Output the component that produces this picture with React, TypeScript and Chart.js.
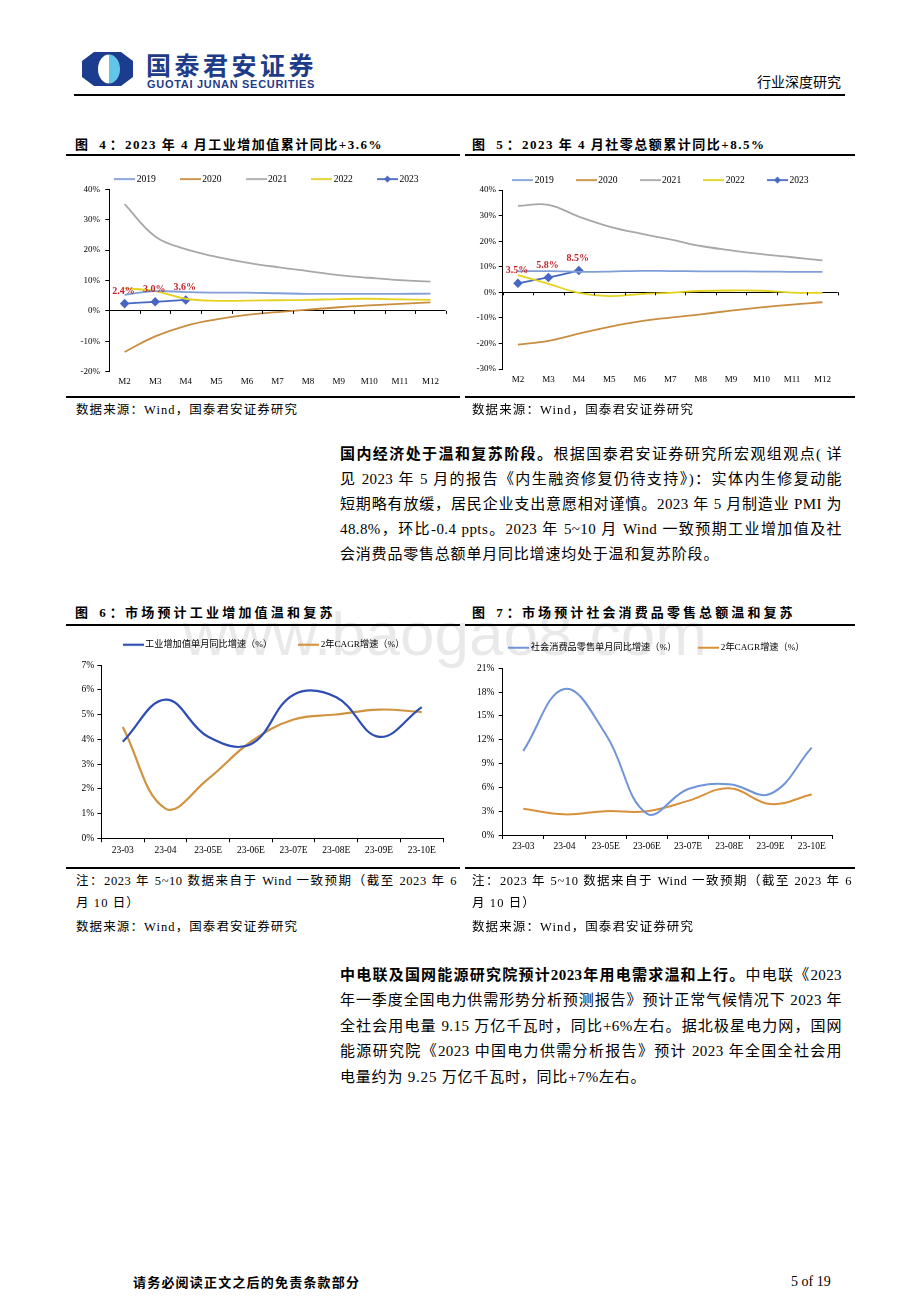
import React, { useEffect, useRef } from "react";
import { Chart, registerables } from "chart.js";

Chart.register(...registerables);

const SERIF = '"Liberation Serif", "Noto Sans CJK SC", serif';
const MIXED = '"Liberation Serif", "Noto Sans CJK SC", sans-serif';

// ---------- data ----------
const MONTHS = ["M2", "M3", "M4", "M5", "M6", "M7", "M8", "M9", "M10", "M11", "M12"];
const YEARS = ["2019", "2020", "2021", "2022", "2023"];

const IVA_2019 = [5.3, 6.5, 6.2, 6.0, 6.0, 5.8, 5.6, 5.6, 5.6, 5.6, 5.7];
const IVA_2020 = [-13.5, -8.4, -4.9, -2.8, -1.3, -0.4, 0.4, 1.2, 1.8, 2.3, 2.8];
const IVA_2021 = [35.1, 24.5, 20.3, 17.8, 15.9, 14.4, 13.1, 11.8, 10.9, 10.1, 9.6];
const IVA_2022 = [7.5, 6.5, 4.0, 3.3, 3.4, 3.5, 3.6, 3.9, 4.0, 3.8, 3.6];
const IVA_2023 = [2.4, 3.0, 3.6];

const RS_2019 = [8.2, 8.3, 8.0, 8.1, 8.4, 8.3, 8.2, 8.2, 8.1, 8.0, 8.0];
const RS_2020 = [-20.5, -19.0, -16.2, -13.5, -11.4, -9.9, -8.6, -7.2, -5.9, -4.8, -3.9];
const RS_2021 = [33.8, 34.2, 29.6, 25.7, 23.0, 20.7, 18.1, 16.4, 14.9, 13.7, 12.5];
const RS_2022 = [6.7, 3.3, -0.2, -1.5, -0.7, -0.2, 0.5, 0.7, 0.6, -0.1, -0.2];
const RS_2023 = [3.5, 5.8, 8.5];

const FC_MONTHS = ["23-03", "23-04", "23-05E", "23-06E", "23-07E", "23-08E", "23-09E", "23-10E"];
const IVA_MONTHLY = [3.9, 5.6, 4.1, 3.8, 5.8, 5.7, 4.1, 5.3];
const IVA_CAGR = [4.5, 1.2, 2.4, 3.9, 4.8, 5.0, 5.2, 5.1];
const RS_MONTHLY = [10.6, 18.4, 12.7, 2.7, 5.8, 6.4, 5.2, 11.0];
const RS_CAGR = [3.3, 2.6, 3.0, 3.0, 4.3, 5.9, 3.9, 5.1];

const IVA_NAMES = ["工业增加值单月同比增速（%）", "2年CAGR增速（%）"];
const RS_NAMES = ["社会消费品零售单月同比增速（%）", "2年CAGR增速（%）"];

const YEAR_COLORS = ["#7F9ED8", "#C98D3F", "#A8A8A8", "#E4D21E", "#4868C0"];

// ---------- helpers ----------
function makeSymbol(color: string, len: number, lw: number, diamond: boolean) {
  const c = document.createElement("canvas");
  c.width = len;
  c.height = 10;
  const g = c.getContext("2d")!;
  g.strokeStyle = color;
  g.lineWidth = lw;
  g.beginPath();
  g.moveTo(0, 5);
  g.lineTo(len, 5);
  g.stroke();
  if (diamond) {
    g.fillStyle = color;
    g.beginPath();
    g.moveTo(len / 2, 1.5);
    g.lineTo(len / 2 + 3.5, 5);
    g.lineTo(len / 2, 8.5);
    g.lineTo(len / 2 - 3.5, 5);
    g.closePath();
    g.fill();
  }
  return c;
}

const legendFix = (h: number) => ({
  id: "legendFix",
  beforeLayout(chart: any) {
    const lg = chart.legend;
    if (lg && !lg.__fixed) {
      const orig = lg.fit;
      lg.fit = function () {
        orig.call(this);
        this.height = h;
      };
      lg.__fixed = true;
    }
  },
});

const valueLabels = (dsIndex: number, dy: number) => ({
  id: "valueLabels",
  afterDatasetsDraw(chart: any) {
    const meta = chart.getDatasetMeta(dsIndex);
    const data = chart.data.datasets[dsIndex].data;
    const ctx = chart.ctx;
    ctx.save();
    ctx.font = 'bold 10px "Liberation Serif"';
    ctx.fillStyle = "#C1272D";
    ctx.textAlign = "center";
    ctx.textBaseline = "middle";
    meta.data.forEach((el: any, i: number) => {
      const v = data[i];
      if (v === null || v === undefined) return;
      ctx.fillText(Number(v).toFixed(1) + "%", el.x - 1, el.y - dy);
    });
    ctx.restore();
  },
});

const zeroTicks = {
  id: "zeroTicks",
  afterDatasetsDraw(chart: any) {
    const xs = chart.scales.x;
    const ys = chart.scales.y;
    const y0 = ys.getPixelForValue(0);
    const n = chart.data.labels.length;
    const p0 = xs.getPixelForValue(0);
    const step = xs.getPixelForValue(1) - p0;
    const ctx = chart.ctx;
    ctx.save();
    ctx.strokeStyle = "#000";
    ctx.lineWidth = 1;
    ctx.beginPath();
    for (let i = 0; i <= n; i++) {
      const px = Math.round(p0 - step / 2 + i * step) + 0.5;
      ctx.moveTo(px, y0);
      ctx.lineTo(px, y0 + 3);
    }
    ctx.stroke();
    ctx.restore();
  },
};

type Geo = {
  left: number;
  top: number;
  width: number;
  height: number;
  yW: number;
  y2W: number;
  xH: number;
  legendH: number;
  legendPad: number;
  legendFs: number;
  tickFs: number;
  xPad: number;
  yPad: number;
};

function legendOptions(geo: Geo, colors: string[], diamondIndex: number, family: string, lw: number) {
  const len = 21;
  const gap = 1.5;
  const B = len - geo.legendFs + 2 * gap;
  const symbols = colors.map((c, i) => makeSymbol(c, len, lw, i === diamondIndex));
  return {
    display: true,
    position: "top",
    align: "center",
    labels: {
      usePointStyle: true,
      pointStyleWidth: B,
      padding: geo.legendPad,
      color: "#000",
      font: { family, size: geo.legendFs },
      generateLabels: (chart: any) =>
        chart.data.datasets.map((ds: any, i: number) => ({
          text: ds.label,
          fillStyle: colors[i],
          strokeStyle: colors[i],
          lineWidth: 0,
          hidden: false,
          datasetIndex: i,
          pointStyle: symbols[i],
          fontColor: "#000",
        })),
    },
  };
}

function commonY2(geo: Geo) {
  return {
    type: "linear",
    position: "right",
    display: true,
    grid: { display: false, drawTicks: false },
    border: { display: false },
    ticks: { display: false },
    afterFit: (s: any) => {
      s.width = geo.y2W;
    },
  };
}

function cumulativeConfig(geo: Geo, series: number[][], yMin: number, yMax: number) {
  return {
    type: "line",
    data: {
      labels: MONTHS,
      datasets: series.map((d, i) => ({
        label: YEARS[i],
        data: d,
        borderColor: YEAR_COLORS[i],
        backgroundColor: YEAR_COLORS[i],
        borderWidth: 1.8,
        pointRadius: i === 4 ? 3.5 : 0,
        pointHoverRadius: i === 4 ? 3.5 : 0,
        pointStyle: "rectRot",
        pointBackgroundColor: YEAR_COLORS[i],
        pointBorderColor: YEAR_COLORS[i],
        tension: i === 4 ? 0.2 : 0.4,
        fill: false,
      })),
    },
    options: {
      animation: false,
      responsive: false,
      maintainAspectRatio: false,
      events: [],
      layout: { padding: 0 },
      plugins: {
        legend: legendOptions(geo, YEAR_COLORS, 4, SERIF, 1.8),
        tooltip: { enabled: false },
        title: { display: false },
      },
      scales: {
        x: {
          type: "category",
          offset: true,
          ticks: {
            color: "#000",
            font: { family: SERIF, size: geo.tickFs },
            padding: geo.xPad,
            maxRotation: 0,
            autoSkip: false,
          },
          grid: { display: false, drawTicks: false, tickLength: 0 },
          border: { display: false },
          afterFit: (s: any) => {
            s.height = geo.xH;
          },
        },
        y: {
          type: "linear",
          min: yMin,
          max: yMax,
          ticks: {
            stepSize: 10,
            color: "#000",
            font: { family: SERIF, size: geo.tickFs },
            padding: geo.yPad,
            callback: (v: any) => v + "%",
          },
          grid: {
            drawOnChartArea: true,
            color: (c: any) => (c.tick && c.tick.value === 0 ? "#000" : "rgba(0,0,0,0)"),
            tickColor: "#000",
            tickLength: 4,
            lineWidth: 1,
          },
          border: { display: true, color: "#000", width: 1 },
          afterFit: (s: any) => {
            s.width = geo.yW;
          },
        },
        y2: commonY2(geo),
      },
    },
    plugins: [legendFix(geo.legendH), zeroTicks, valueLabels(4, 12.5)],
  };
}

function forecastConfig(
  geo: Geo,
  names: string[],
  series: number[][],
  colors: string[],
  yMax: number,
  step: number,
  lw: number
) {
  return {
    type: "line",
    data: {
      labels: FC_MONTHS,
      datasets: series.map((d, i) => ({
        label: names[i],
        data: d,
        borderColor: colors[i],
        backgroundColor: colors[i],
        borderWidth: lw,
        pointRadius: 0,
        pointHoverRadius: 0,
        tension: 0.4,
        fill: false,
      })),
    },
    options: {
      animation: false,
      responsive: false,
      maintainAspectRatio: false,
      events: [],
      layout: { padding: 0 },
      plugins: {
        legend: legendOptions(geo, colors, -1, MIXED, lw),
        tooltip: { enabled: false },
        title: { display: false },
      },
      scales: {
        x: {
          type: "category",
          offset: true,
          ticks: {
            color: "#000",
            font: { family: SERIF, size: geo.tickFs },
            padding: geo.xPad,
            maxRotation: 0,
            autoSkip: false,
          },
          grid: {
            offset: true,
            drawOnChartArea: false,
            drawTicks: true,
            tickLength: 4,
            color: "#000",
            tickColor: "#000",
          },
          border: { display: true, color: "#000", width: 1 },
          afterFit: (s: any) => {
            s.height = geo.xH;
          },
        },
        y: {
          type: "linear",
          min: 0,
          max: yMax,
          ticks: {
            stepSize: step,
            color: "#000",
            font: { family: SERIF, size: geo.tickFs },
            padding: geo.yPad,
            callback: (v: any) => v + "%",
          },
          grid: {
            drawOnChartArea: false,
            color: "#000",
            tickColor: "#000",
            tickLength: 4,
          },
          border: { display: true, color: "#000", width: 1 },
          afterFit: (s: any) => {
            s.width = geo.yW;
          },
        },
        y2: commonY2(geo),
      },
    },
    plugins: [legendFix(geo.legendH)],
  };
}

// ---------- geometry ----------
const G4: Geo = { left: 68, top: 147, width: 400, height: 245, yW: 41.3, y2W: 22.3, xH: 20.3, legendH: 42.3, legendPad: 27.3, legendFs: 9.6, tickFs: 9, xPad: 4.9, yPad: 5.3 };
const G5: Geo = { left: 462, top: 150, width: 400, height: 242, yW: 40.7, y2W: 24.3, xH: 23, legendH: 40, legendPad: 25.3, legendFs: 9.6, tickFs: 9, xPad: 5.6, yPad: 2.7 };
const G6: Geo = { left: 65, top: 611, width: 400, height: 251, yW: 36.4, y2W: 21.9, xH: 23.7, legendH: 54, legendPad: 29.1, legendFs: 9.2, tickFs: 9.5, xPad: 2, yPad: 3.2 };
const G7: Geo = { left: 458, top: 618, width: 400, height: 244, yW: 44.7, y2W: 25.7, xH: 27, legendH: 50.3, legendPad: 25.1, legendFs: 9.2, tickFs: 9.5, xPad: 1.3, yPad: 4.4 };

function ChartCanvas({ geo, build }: { geo: Geo; build: () => any }) {
  const ref = useRef<HTMLCanvasElement | null>(null);
  useEffect(() => {
    if (!ref.current) return;
    const chart = new Chart(ref.current, build());
    return () => chart.destroy();
  }, []);
  return (
    <canvas
      ref={ref}
      width={geo.width}
      height={geo.height}
      style={{ position: "absolute", left: geo.left, top: geo.top, width: geo.width, height: geo.height }}
    />
  );
}

// ---------- text helpers ----------
function Txt({ x, y, size, children, style }: any) {
  const lh = Math.round(size * 1.6);
  return (
    <div
      style={{
        position: "absolute",
        left: x,
        top: y - lh / 2,
        height: lh,
        lineHeight: lh + "px",
        fontSize: size,
        whiteSpace: "pre",
        ...style,
      }}
    >
      {children}
    </div>
  );
}

function JTxt({ x, y, w, size, children, style }: any) {
  const lh = Math.round(size * 1.6);
  return (
    <div
      style={{
        position: "absolute",
        left: x,
        top: y - lh / 2,
        width: w,
        height: lh,
        lineHeight: lh + "px",
        fontSize: size,
        textAlign: "justify",
        textAlignLast: "justify",
        whiteSpace: "normal",
        ...style,
      }}
    >
      {children}
    </div>
  );
}

function HLine({ x, y, w, h }: any) {
  return <div style={{ position: "absolute", left: x, top: y, width: w, height: h, background: "#000" }} />;
}

function Title({ x, y, num, text, ls }: any) {
  return (
    <div style={{ position: "absolute", left: x, top: y - 10, height: 20, lineHeight: "20px", fontSize: 13, fontWeight: "bold", whiteSpace: "pre" }}>
      <span style={{ display: "inline-block", width: 50, letterSpacing: 4 }}>{"图 " + num + "："}</span>
      <span style={{ letterSpacing: ls }}>{text}</span>
    </div>
  );
}

const P1 = [
  <>
    <b>国内经济处于温和复苏阶段。</b>根据国泰君安证券研究所宏观组观点( 详
  </>,
  <>见 2023 年 5 月的报告《内生融资修复仍待支持》)：实体内生修复动能</>,
  <>短期略有放缓，居民企业支出意愿相对谨慎。2023 年 5 月制造业 PMI 为</>,
  <>48.8%，环比-0.4 ppts。2023 年 5~10 月 Wind 一致预期工业增加值及社</>,
];
const P1_LAST = "会消费品零售总额单月同比增速均处于温和复苏阶段。";

const P2 = [
  <>
    <b>中电联及国网能源研究院预计2023年用电需求温和上行。</b>中电联《2023
  </>,
  <>年一季度全国电力供需形势分析预测报告》预计正常气候情况下 2023 年</>,
  <>全社会用电量 9.15 万亿千瓦时，同比+6%左右。据北极星电力网，国网</>,
  <>能源研究院《2023 中国电力供需分析报告》预计 2023 年全国全社会用</>,
];
const P2_LAST = "电量约为 9.25 万亿千瓦时，同比+7%左右。";

export default function App() {
  return (
    <div
      style={{
        position: "absolute",
        left: 0,
        top: 0,
        width: 920,
        height: 1302,
        background: "#fff",
        overflow: "hidden",
        color: "#000",
        fontFamily: MIXED,
      }}
    >
      {/* watermark */}
      <div
        style={{
          position: "absolute",
          left: 183,
          top: 603,
          fontSize: 62,
          lineHeight: "62px",
          fontFamily: '"Liberation Sans", sans-serif',
          color: "rgba(0,0,0,0.085)",
          whiteSpace: "pre",
        }}
      >
        www.baogao8.com
      </div>

      {/* header */}
      <svg width="51" height="34" viewBox="0 0 51 34" style={{ position: "absolute", left: 82, top: 52 }}>
        <path d="M12 0 L39 0 L51 9 L51 25 L39 34 L12 34 L0 25 L0 9 Z" fill="#1C3D8F" />
        <path d="M27 2.5 A11 14.5 0 0 0 27 31.5 Z" fill="#FFFFFF" />
        <path d="M27 2.5 A11 14.5 0 0 1 27 31.5 Z" fill="#62C6E8" />
      </svg>
      <Txt x={146} y={64} size={25} style={{ fontWeight: "bold", color: "#1F3C88", letterSpacing: 3.5, fontFamily: '"Noto Sans CJK SC", sans-serif' }}>
        国泰君安证券
      </Txt>
      <Txt x={147} y={83.5} size={11} style={{ fontWeight: "bold", color: "#1F3C88", letterSpacing: 0.7, fontFamily: '"Liberation Sans", sans-serif' }}>
        GUOTAI JUNAN SECURITIES
      </Txt>
      <Txt x={757} y={83} size={14}>
        行业深度研究
      </Txt>
      <HLine x={74} y={94} w={771} h={1.5} />

      {/* figure 4 / 5 */}
      <Title x={75} y={144.5} num="4" text="2023 年 4 月工业增加值累计同比+3.6%" ls={1.5} />
      <Title x={472} y={144.5} num="5" text="2023 年 4 月社零总额累计同比+8.5%" ls={1.5} />
      <HLine x={66} y={154} w={394} h={2} />
      <HLine x={465} y={154} w={390} h={2} />
      <ChartCanvas geo={G4} build={() => cumulativeConfig(G4, [IVA_2019, IVA_2020, IVA_2021, IVA_2022, IVA_2023], -20, 40)} />
      <ChartCanvas geo={G5} build={() => cumulativeConfig(G5, [RS_2019, RS_2020, RS_2021, RS_2022, RS_2023], -30, 40)} />
      <HLine x={66} y={396} w={394} h={2} />
      <HLine x={465} y={396} w={390} h={2} />
      <Txt x={76} y={410} size={12.5} style={{ letterSpacing: 1.1 }}>
        数据来源：Wind，国泰君安证券研究
      </Txt>
      <Txt x={472} y={410} size={12.5} style={{ letterSpacing: 1.1 }}>
        数据来源：Wind，国泰君安证券研究
      </Txt>

      {/* paragraph 1 */}
      {P1.map((line, i) => (
        <JTxt key={"p1" + i} x={340} y={454 + i * 25} w={502} size={15} style={{ letterSpacing: 0.4 }}>
          {line}
        </JTxt>
      ))}
      <Txt x={340} y={454 + 4 * 25} size={15} style={{ letterSpacing: 0.8 }}>
        {P1_LAST}
      </Txt>

      {/* figure 6 / 7 */}
      <Title x={75} y={613} num="6" text="市场预计工业增加值温和复苏" ls={3.2} />
      <Title x={472} y={613} num="7" text="市场预计社会消费品零售总额温和复苏" ls={3.1} />
      <HLine x={66} y={624} w={394} h={2} />
      <HLine x={465} y={624} w={390} h={2} />
      <ChartCanvas geo={G6} build={() => forecastConfig(G6, IVA_NAMES, [IVA_MONTHLY, IVA_CAGR], ["#2E4EB3", "#D09340"], 7, 1, 2.2)} />
      <ChartCanvas geo={G7} build={() => forecastConfig(G7, RS_NAMES, [RS_MONTHLY, RS_CAGR], ["#7094D8", "#D8913A"], 21, 3, 2)} />
      <HLine x={66} y={867} w={394} h={2} />
      <HLine x={465} y={867} w={390} h={2} />

      <JTxt x={76} y={881} w={381} size={12.5} style={{ letterSpacing: 0.6 }}>
        注：2023 年 5~10 数据来自于 Wind 一致预期（截至 2023 年 6
      </JTxt>
      <Txt x={76} y={903} size={12.5} style={{ letterSpacing: 1.1 }}>
        月 10 日）
      </Txt>
      <Txt x={76} y={927} size={12.5} style={{ letterSpacing: 1.1 }}>
        数据来源：Wind，国泰君安证券研究
      </Txt>
      <JTxt x={472} y={881} w={380} size={12.5} style={{ letterSpacing: 0.6 }}>
        注：2023 年 5~10 数据来自于 Wind 一致预期（截至 2023 年 6
      </JTxt>
      <Txt x={472} y={903} size={12.5} style={{ letterSpacing: 1.1 }}>
        月 10 日）
      </Txt>
      <Txt x={472} y={927} size={12.5} style={{ letterSpacing: 1.1 }}>
        数据来源：Wind，国泰君安证券研究
      </Txt>

      {/* paragraph 2 */}
      {P2.map((line, i) => (
        <JTxt key={"p2" + i} x={340} y={975 + i * 25.4} w={502} size={15} style={{ letterSpacing: 0.4 }}>
          {line}
        </JTxt>
      ))}
      <Txt x={340} y={975 + 4 * 25.4} size={15} style={{ letterSpacing: 0.8 }}>
        {P2_LAST}
      </Txt>

      {/* footer */}
      <Txt x={133} y={1282} size={13} style={{ fontWeight: "bold", letterSpacing: 1.2 }}>
        请务必阅读正文之后的免责条款部分
      </Txt>
      <Txt x={791} y={1282} size={14} style={{ fontFamily: '"Liberation Serif", serif' }}>
        5 of 19
      </Txt>
    </div>
  );
}
